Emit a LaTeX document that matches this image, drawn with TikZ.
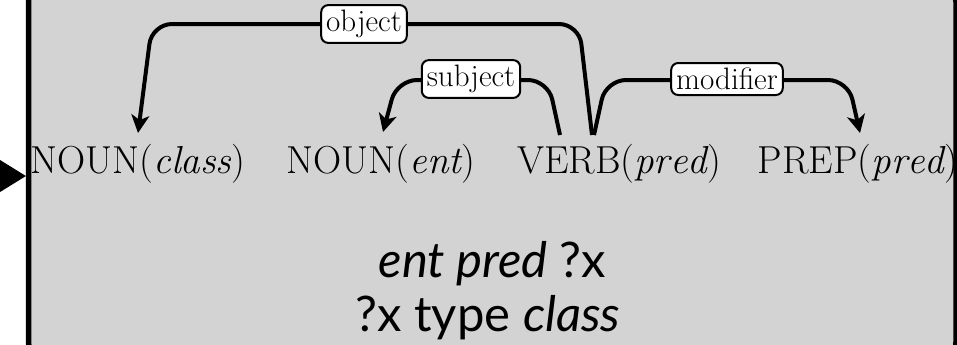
\documentclass[tikz,border=0pt]{standalone}
\usepackage{fontspec}
\newfontfamily\gillish{Lato}
\usetikzlibrary{arrows.meta}
\definecolor{boxgray}{RGB}{211,211,211}
\tikzset{
  word/.style={anchor=base, inner sep=0pt, font=\fontsize{19.5}{22}\selectfont},
  deplabel/.style={draw=black, line width=1pt, fill=white, rounded corners=3.5pt,
     inner sep=2.5pt, font=\fontsize{15.5}{17}\selectfont},
  arc/.style={line width=2pt, rounded corners=10pt},
  arcto/.style={arc, -{Stealth[length=9pt, width=9pt, inset=2.5pt]}},
  query/.style={anchor=base, inner sep=0pt, font=\gillish\fontsize{24.5}{27}\selectfont},
}
\begin{document}
\begin{tikzpicture}[x=0.5pt, y=-0.5pt]
\useasboundingbox (0,0) rectangle (957,344);
\clip (0,0) rectangle (957,344);
% panel
\draw[line width=2.75pt, fill=boxgray, rounded corners=8pt] (28.5,-14) rectangle (956,358);
% incoming arrow
\coordinate (src) at (-80,176);
\coordinate (dst) at (26,176);
\draw[line width=2pt, -{Triangle[length=15pt, width=18pt]}] (src) -- (dst);
% words
\node[word] (w1) at (138,173) {NOUN($\mathit{class}$)};
\node[word] (w2) at (381,173) {NOUN($\mathit{ent}$)};
\node[word] (w3) at (619,173) {VERB($\mathit{pred}$)};
\node[word] (w4) at (858,173) {PREP($\mathit{pred}$)};
% edge anchors
\coordinate (v1) at ([xshift=-29.5pt, yshift=19pt]w3.base);
\coordinate (v2) at ([xshift=-13.5pt, yshift=19pt]w3.base);
\coordinate (v3) at ([xshift=-12.5pt, yshift=19pt]w3.base);
\coordinate (a1) at (138,133);
\coordinate (a2) at (383,132);
\coordinate (a4) at (860,133);
% arcs
\draw[arcto] (v2) -- (579,24) -- (152,24) -- (a1);
\draw[arcto] (v1) -- (548,80) -- (397,80) -- (a2);
\draw[arcto] (v3) -- (606,80) -- (848,80) -- (a4);
% labels
\node[deplabel] (lobj) at (364,24) {object};
\node[deplabel] (lsub) at (471,79) {subject};
\node[deplabel] (lmod) at (727,79) {modifier};
% query
\node[query] (q1) at (492,277) {\itshape ent pred\/ \upshape ?x};
\node[query] (q2) at (488,331) {?x type \itshape class};
\end{tikzpicture}
\end{document}
